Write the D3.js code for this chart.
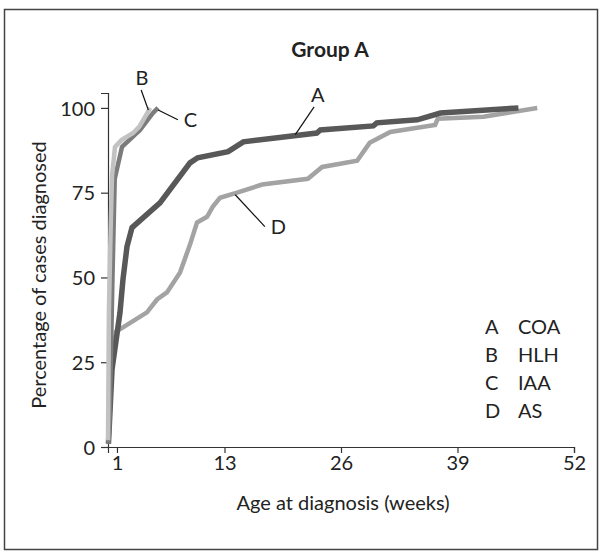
<!DOCTYPE html>
<html>
<head>
<meta charset="utf-8">
<script src="https://cdn.jsdelivr.net/npm/d3@7"></script>
<style>
  body { margin: 0; background: #fff; }
  text { font-family: Lato, "Open Sans", sans-serif; fill: #222; }
</style>
</head>
<body>
<script>
// cumulative % of cases diagnosed vs age (weeks)
const weeksA = [0.05, 0.45, 1.34, 1.67, 2.12, 2.68, 5.8, 9.15, 10.0, 13.4, 15.1, 18.9, 23.3, 23.7, 29.6, 30.0, 34.5, 37.1, 45.8];
const pctA   = [1, 22.9, 39.7, 49.4, 59.1, 64.7, 72, 83.8, 85.3, 87.1, 90, 91.2, 92.6, 93.5, 94.7, 95.6, 96.5, 98.5, 100];

const weeksB = [0, 0.05, 0.1, 0.3, 0.45, 0.78, 1.5, 2.8, 3.5, 4.15, 4.7];
const pctB   = [2, 20, 40, 65, 80, 88.5, 90.5, 92.6, 94.5, 97.4, 100];

const weeksC = [0.05, 0.2, 0.35, 0.5, 0.75, 1.56, 3.57, 5.02, 5.58];
const pctC   = [1, 10, 30, 50, 79, 88.5, 93.5, 98.5, 100];

const weeksD = [0.05, 0.4, 0.9, 1.67, 4.35, 5.47, 6.58, 8.04, 9.15, 9.93, 11.05, 11.7, 12.5, 14.4, 17.2, 22.3, 23.9, 27.8, 29.2, 31.5, 36.5, 36.8, 41.9, 47.9];
const pctD   = [1, 25, 34, 35.3, 39.7, 43.5, 45.6, 51.5, 59.7, 66.2, 67.9, 70.9, 73.5, 75, 77.4, 79.1, 82.6, 84.4, 89.7, 92.9, 95, 96.8, 97.4, 100];

const xTicks = [1, 13, 26, 39, 52];
const yTicks = [0, 25, 50, 75, 100];

const legendKeys  = ["A", "B", "C", "D"];
const legendNames = ["COA", "HLH", "IAA", "AS"];

// callout labels: text position and leader line ends, in data units
const callouts = [
  { key: "A", tx: 23.4, tp: 103.8, x1: 23.0, p1: 100.3, x2: 20.9, p2: 92.1 },
  { key: "B", tx: 3.8,  tp: 109,   x1: 3.7,  p1: 105.3, x2: 4.5,  p2: 99.4 },
  { key: "C", tx: 9.2,  tp: 96.5,  x1: 7.8,  p1: 96.5,  x2: 5.6,  p2: 99.4 },
  { key: "D", tx: 19.0, tp: 65,    x1: 17.5, p1: 65,    x2: 14.2, p2: 74.4 }
];

const width = 602, height = 554;

const svg = d3.select("body").append("svg")
    .attr("width", width)
    .attr("height", height);

// outer frame
svg.append("rect")
    .attr("x", 4.5).attr("y", 9.5)
    .attr("width", 593).attr("height", 540)
    .attr("fill", "none")
    .attr("stroke", "#444")
    .attr("stroke-width", 1.5);

const x = d3.scaleLinear().domain([0, 52]).range([108, 574]);
const y = d3.scaleLinear().domain([0, 104.4]).range([447, 93]);

// axes
const xAxis = svg.append("g")
    .attr("transform", "translate(0,447)")
    .call(d3.axisBottom(x).tickValues(xTicks).tickSizeOuter(0).tickSize(6).tickPadding(3));
const yAxis = svg.append("g")
    .attr("transform", "translate(108,0)")
    .call(d3.axisLeft(y).tickValues(yTicks).tickSizeOuter(0).tickSize(7).tickPadding(6));

[xAxis, yAxis].forEach(g => {
    g.selectAll("path, line").attr("stroke", "#333").attr("stroke-width", 1.2);
    g.selectAll("text").style("font-size", "20px").attr("fill", "#222");
});
yAxis.selectAll("text").attr("dy", "0.36em");

// curves
const line = d3.line()
    .x(d => x(d[0]))
    .y(d => y(d[1]));

const series = [
    { w: weeksD, p: pctD, color: "#a3a3a3", sw: 4.5 },
    { w: weeksA, p: pctA, color: "#585858", sw: 5.5 },
    { w: weeksC, p: pctC, color: "#7c7c7c", sw: 4.5 },
    { w: weeksB, p: pctB, color: "#c2c2c2", sw: 4.5 }
];

series.forEach(s => {
    svg.append("path")
        .datum(d3.zip(s.w, s.p))
        .attr("d", line)
        .attr("fill", "none")
        .attr("stroke", s.color)
        .attr("stroke-width", s.sw)
        .attr("stroke-linejoin", "miter")
        .attr("stroke-linecap", "butt");
});

// callouts
callouts.forEach(c => {
    svg.append("line")
        .attr("x1", x(c.x1)).attr("y1", y(c.p1))
        .attr("x2", x(c.x2)).attr("y2", y(c.p2))
        .attr("stroke", "#111")
        .attr("stroke-width", 1.2);
    svg.append("text")
        .attr("x", x(c.tx)).attr("y", y(c.tp))
        .attr("text-anchor", "middle")
        .attr("dy", "0.36em")
        .style("font-size", "20px")
        .text(c.key);
});

// title and axis labels
svg.append("text")
    .attr("x", 330).attr("y", 57)
    .attr("text-anchor", "middle")
    .style("font-size", "21px")
    .style("font-weight", "bold")
    .text("Group A");

svg.append("text")
    .attr("transform", "translate(46,275) rotate(-90)")
    .attr("text-anchor", "middle")
    .style("font-size", "20px")
    .text("Percentage of cases diagnosed");

svg.append("text")
    .attr("x", 343).attr("y", 510)
    .attr("text-anchor", "middle")
    .style("font-size", "20px")
    .text("Age at diagnosis (weeks)");

// legend
const legend = svg.append("g");
legendKeys.forEach((k, i) => {
    legend.append("text")
        .attr("x", 485).attr("y", 334 + i * 28)
        .style("font-size", "20px")
        .text(k);
    legend.append("text")
        .attr("x", 518).attr("y", 334 + i * 28)
        .style("font-size", "20px")
        .text(legendNames[i]);
});
</script>
</body>
</html>
